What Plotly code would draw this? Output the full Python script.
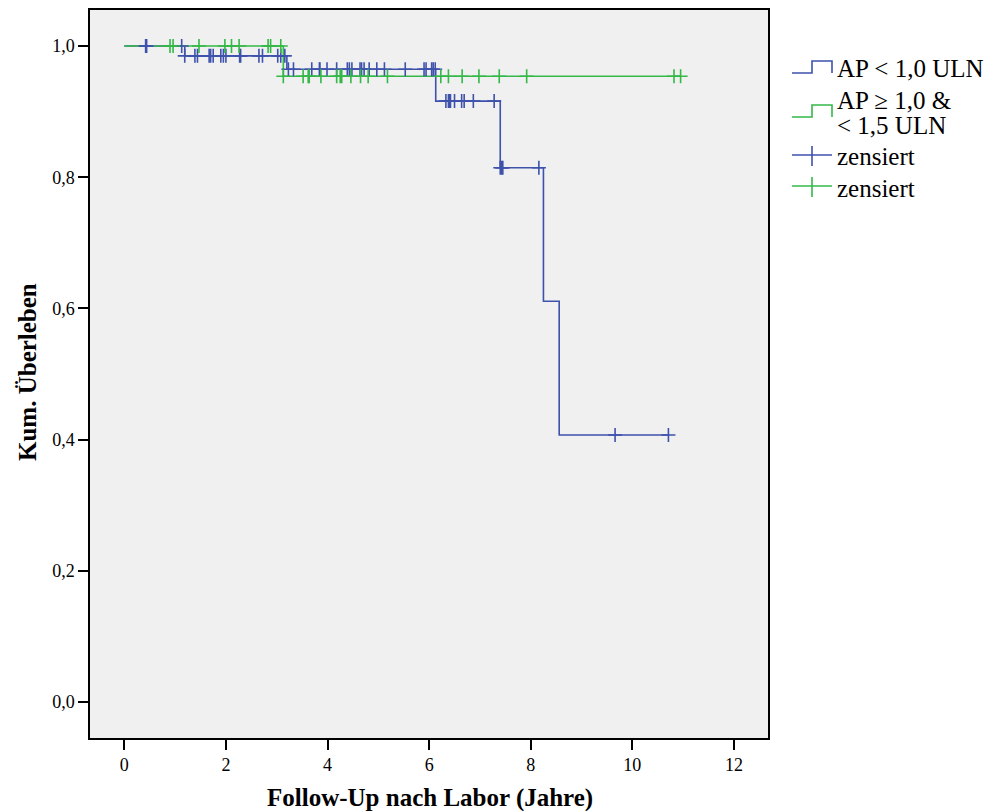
import numpy as np
import plotly.graph_objects as go

# ---------------- data ----------------
# Group 1: AP < 1,0 ULN  (step function: event times and survival after each step)
blue_times = [0.0, 1.19, 3.20, 6.13, 7.40, 8.25, 8.56, 10.71]
blue_surv = [1.0, 0.985, 0.9645, 0.916, 0.8145, 0.611, 0.407, 0.407]
blue_censored = [0.42, 0.44, 1.13,
                 1.19, 1.39, 1.44, 1.67, 1.70, 1.75, 1.90, 1.95, 2.00, 2.27, 2.29,
                 2.65, 2.72, 3.02, 3.08, 3.16,
                 3.23, 3.33, 3.69, 3.84, 3.85, 3.99, 4.18, 4.39, 4.43, 4.48, 4.64,
                 4.67, 4.72, 4.82, 4.97, 5.12, 5.53, 5.90, 5.94, 6.05, 6.08, 6.12,
                 6.33, 6.38, 6.40, 6.42, 6.50, 6.64, 6.69, 6.87, 7.28,
                 7.40, 7.43, 7.45, 8.16,
                 9.66, 10.71]

# Group 2: AP >= 1,0 & < 1,5 ULN
green_times = [0.0, 3.13, 10.95]
green_surv = [1.0, 0.954, 0.954]
green_censored = [0.90, 0.96, 1.47, 1.98, 2.11, 2.26, 2.83, 2.88, 3.08,
                  3.13, 3.52, 3.62, 3.64, 3.87, 4.18, 4.25, 4.28, 4.46, 4.65,
                  4.80, 5.18, 6.23, 6.38, 6.65, 6.98, 7.38, 7.92, 10.82, 10.95]

group_names = ["AP < 1,0 ULN", "AP ≥ 1,0 & < 1,5 ULN"]
x_ticks = [0, 2, 4, 6, 8, 10, 12]
y_ticks = [0.0, 0.2, 0.4, 0.6, 0.8, 1.0]
x_title = "Follow-Up nach Labor (Jahre)"
y_title = "Kum. Überleben"

BLUE = "rgb(62,82,172)"
GREEN = "rgb(52,184,72)"
FONT = "Liberation Serif"


def surv_at(times, surv, t):
    idx = np.searchsorted(np.asarray(times), np.asarray(t), side="right") - 1
    return np.asarray(surv)[idx]


fig = go.Figure()

fig.add_trace(go.Scatter(x=blue_times, y=blue_surv, mode="lines",
                         line=dict(color=BLUE, width=1.6, shape="hv"),
                         name=group_names[0], showlegend=False, hoverinfo="skip"))
fig.add_trace(go.Scatter(x=green_times, y=green_surv, mode="lines",
                         line=dict(color=GREEN, width=1.6, shape="hv"),
                         name=group_names[1], showlegend=False, hoverinfo="skip"))
fig.add_trace(go.Scatter(x=blue_censored, y=surv_at(blue_times, blue_surv, blue_censored),
                         mode="markers",
                         marker=dict(symbol="cross-thin", size=10,
                                     line=dict(color=BLUE, width=1.6)),
                         name="zensiert", showlegend=False))
fig.add_trace(go.Scatter(x=green_censored, y=surv_at(green_times, green_surv, green_censored),
                         mode="markers",
                         marker=dict(symbol="cross-thin", size=10,
                                     line=dict(color=GREEN, width=1.6)),
                         name="zensiert", showlegend=False))

# ---------------- custom legend (step icons + text) ----------------
L, T, W, H = 90.0, 10.0, 678.0, 728.0   # plot area in pixels


def px(x):
    return (x - L) / W


def py(y):
    return (T + H - y) / H


shapes = []
annotations = []


def step_icon(ylow, yhigh, color):
    path = (f"M {px(792)},{py(ylow)} L {px(812)},{py(ylow)} L {px(812)},{py(yhigh)} "
            f"L {px(832)},{py(yhigh)} L {px(832)},{py(ylow)}")
    shapes.append(dict(type="path", xref="paper", yref="paper", path=path,
                       line=dict(color=color, width=1.6)))


def cross_icon(yc, color):
    shapes.append(dict(type="line", xref="paper", yref="paper",
                       x0=px(792), x1=px(832), y0=py(yc), y1=py(yc),
                       line=dict(color=color, width=1.6)))
    shapes.append(dict(type="line", xref="paper", yref="paper",
                       x0=px(812), x1=px(812), y0=py(yc - 9), y1=py(yc + 11),
                       line=dict(color=color, width=1.6)))


def text_ann(text, x, y, size, xanchor="left", angle=0):
    annotations.append(dict(xref="paper", yref="paper", x=px(x), y=py(y),
                            xanchor=xanchor, yanchor="middle", showarrow=False,
                            textangle=angle, text=text,
                            font=dict(family=FONT, size=size, color="black")))


step_icon(73, 61, BLUE)
text_ann("AP &lt; 1,0 ULN", 835, 68, 25)
step_icon(117, 105, GREEN)
text_ann("AP ≥ 1,0 &amp;", 835, 100, 25)
text_ann("&lt; 1,5 ULN", 835, 126, 25)
cross_icon(155, BLUE)
text_ann("zensiert", 835, 157, 25)
cross_icon(186, GREEN)
text_ann("zensiert", 835, 188, 25)

# axis titles
text_ann(f"<b>{x_title}</b>", 430, 798, 25, xanchor="center")
text_ann(f"<b>{y_title}</b>", 27, 372, 25, xanchor="center", angle=-90)

fig.update_layout(
    width=992, height=811,
    margin=dict(l=90, r=224, t=10, b=73, pad=0, autoexpand=False),
    paper_bgcolor="white",
    plot_bgcolor="#F0F0F0",
    separators=",.",
    showlegend=False,
    font=dict(family=FONT, size=18, color="black"),
    shapes=shapes,
    annotations=annotations,
    xaxis=dict(range=[-0.675, 12.67], tickvals=x_ticks, ticks="outside", ticklen=10,
               tickwidth=1.5, tickcolor="black", showline=True, linecolor="black",
               linewidth=1.5, mirror=True, showgrid=False, zeroline=False,
               automargin=False, tickfont=dict(family=FONT, size=18)),
    yaxis=dict(range=[-0.0549, 1.0549], tickvals=y_ticks, tickformat=".1f",
               ticks="outside", ticklen=10, tickwidth=1.5, tickcolor="black",
               showline=True, linecolor="black", linewidth=1.5, mirror=True,
               showgrid=False, zeroline=False, automargin=False,
               tickfont=dict(family=FONT, size=18)),
)

fig.write_html(
    "out.html",
    config={"displayModeBar": False},
    post_script="document.body.style.margin='0';document.body.style.overflow='hidden';",
)
